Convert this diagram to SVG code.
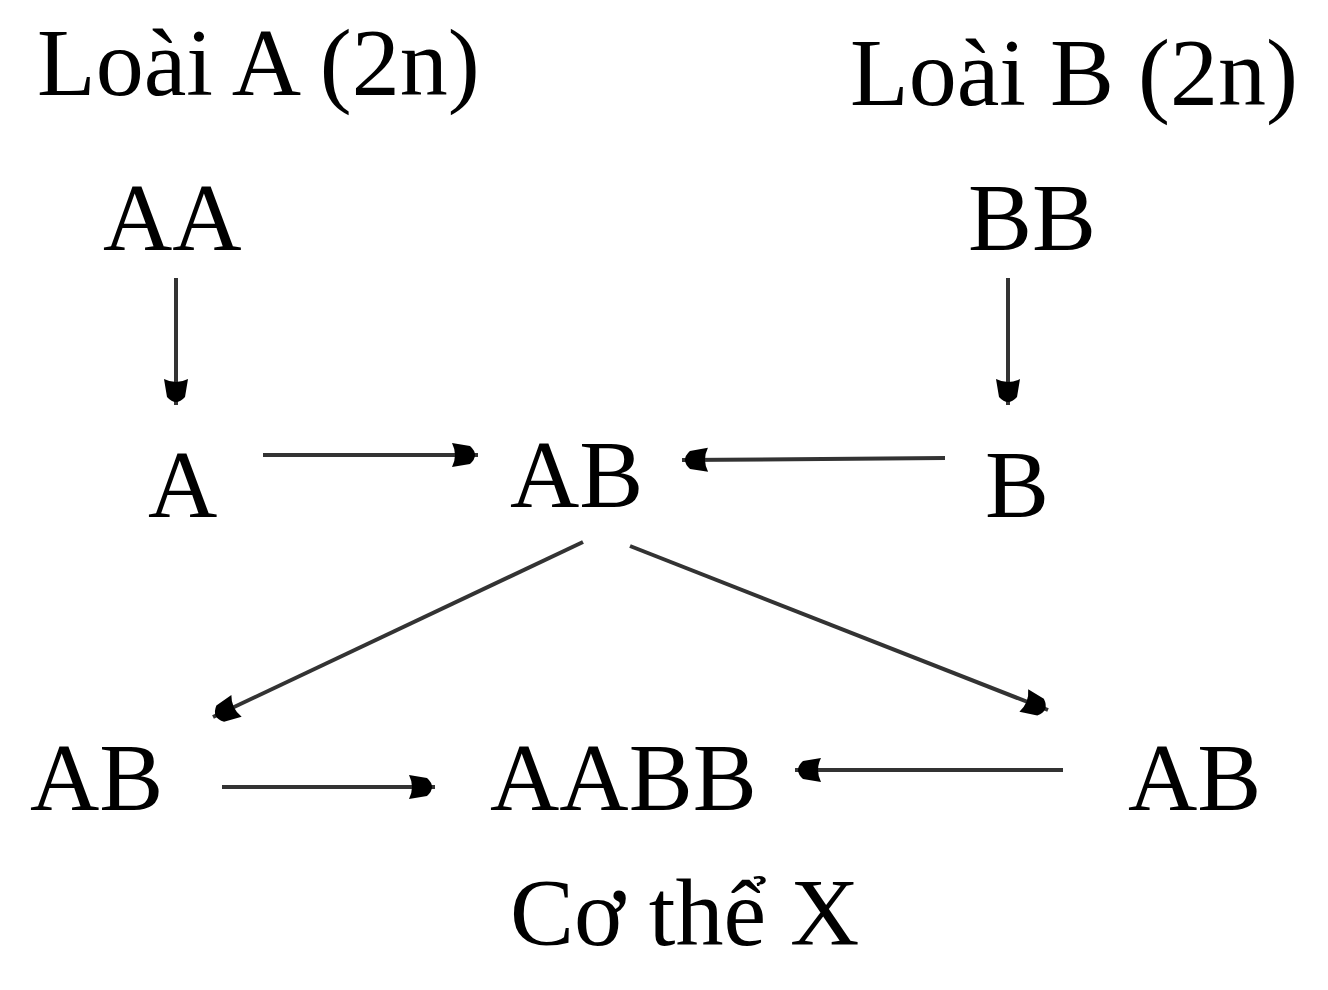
<svg xmlns="http://www.w3.org/2000/svg" width="1328" height="990" viewBox="0 0 1328 990">
<style>
text{font-family:"Liberation Serif","Times New Roman",serif;font-size:96px;fill:#000}
.c{stroke:#333;stroke-width:4;fill:none;marker-end:url(#h)}
</style>
<defs>
<marker id="h" markerUnits="userSpaceOnUse" markerWidth="30" markerHeight="30" viewBox="0 0 30 30" refX="28" refY="15" orient="auto">
<path d="M2 3 Q8 15 2 27 L20 24 Q30 15 20 6 Z" fill="#000"/>
</marker>
</defs>
<rect width="1328" height="990" fill="#fff"/>
<g id="loaiA"><text x="37" y="95">Loài A (2n)</text></g>
<g id="loaiB"><text x="850" y="105">Loài B (2n)</text></g>
<g id="AA"><text x="103" y="250">AA</text></g>
<g id="BB"><text x="968" y="250">BB</text></g>
<g id="A"><text x="148" y="517">A</text></g>
<g id="AB"><text x="510" y="507">AB</text></g>
<g id="B"><text x="985" y="517">B</text></g>
<g id="ABL"><text x="30" y="810">AB</text></g>
<g id="AABB"><text x="490" y="810">AABB</text></g>
<g id="ABR"><text x="1128" y="810">AB</text></g>
<g id="X"><text x="510" y="945">Cơ thể X</text></g>
<g id="connectors">
<line class="c" x1="176" y1="278" x2="176" y2="405"/>
<line class="c" x1="1008" y1="278" x2="1008" y2="405"/>
<line class="c" x1="263" y1="455" x2="478" y2="455"/>
<line class="c" x1="945" y1="458" x2="682" y2="460"/>
<line class="c" x1="583" y1="542" x2="213" y2="717"/>
<line class="c" x1="630" y1="546" x2="1048" y2="710"/>
<line class="c" x1="222" y1="787" x2="435" y2="787"/>
<line class="c" x1="1063" y1="770" x2="795" y2="770"/>
</g>
</svg>
